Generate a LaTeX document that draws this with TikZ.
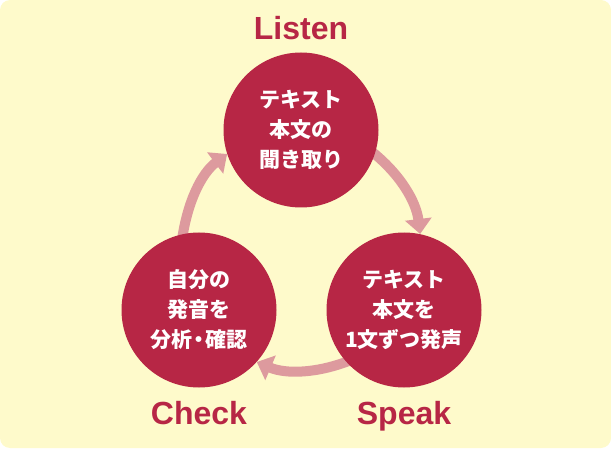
\documentclass[tikz,border=0pt]{standalone}
\usepackage{fontspec}
\setmainfont{Noto Sans CJK JP}
\newfontfamily\latinfont{Liberation Sans}
\usetikzlibrary{positioning, arrows.meta}
\pgfdeclarelayer{bg}
\pgfdeclarelayer{links}
\pgfsetlayers{bg,links,main}
\definecolor{bgyellow}{RGB}{254,250,203}
\definecolor{crimson}{RGB}{183,38,69}
\definecolor{linkpink}{RGB}{221,154,158}

\begin{document}
\begin{tikzpicture}[
  x=1pt, y=1pt,
  stage/.style={circle, fill=crimson, minimum size=155pt, inner sep=0pt,
                text=white, align=center,
                font=\bfseries\fontsize{21}{30}\selectfont},
  phase/.style={text=crimson, inner sep=0pt,
                font=\latinfont\bfseries\fontsize{32}{36}\selectfont},
  arr/.style={-{Triangle[length=15pt, width=26pt]}, line width=10pt,
              draw=linkpink, shorten <=-6pt},
]
\useasboundingbox (0,0) rectangle (611,448);
\begin{pgfonlayer}{bg}
  \fill[bgyellow, rounded corners=10pt] (0,0) rectangle (611,448);
\end{pgfonlayer}
% ---- three stages ----
\node[stage] (listen) at (301,318) {テキスト\\本文の\\聞き取り};
\node[stage] (speak)  at (404,138) {テキスト\\本文を\\1文ずつ発声};
\node[stage] (check)  at (199,138) {自分の\\発音を\\分析\kern-4pt・\kern-4pt確認};
% ---- stage labels ----
\node[phase, above=12.5pt of listen] (listenlbl) {Listen};
\node[phase, below=13pt of speak]    (speaklbl)  {Speak};
\node[phase, below=13pt of check]    (checklbl)  {Check};
% ---- cycle ----
\begin{pgfonlayer}{links}
  \draw[arr] (listen.-18)  to[out=-38, in=97, looseness=0.9]   (speak.78);
  \draw[arr] (speak.-138)  to[out=-158, in=-23, looseness=0.9] (check.-42);
  \draw[arr] (check.102)   to[out=82, in=-143, looseness=0.9]  (listen.198);
\end{pgfonlayer}
\end{tikzpicture}
\end{document}
